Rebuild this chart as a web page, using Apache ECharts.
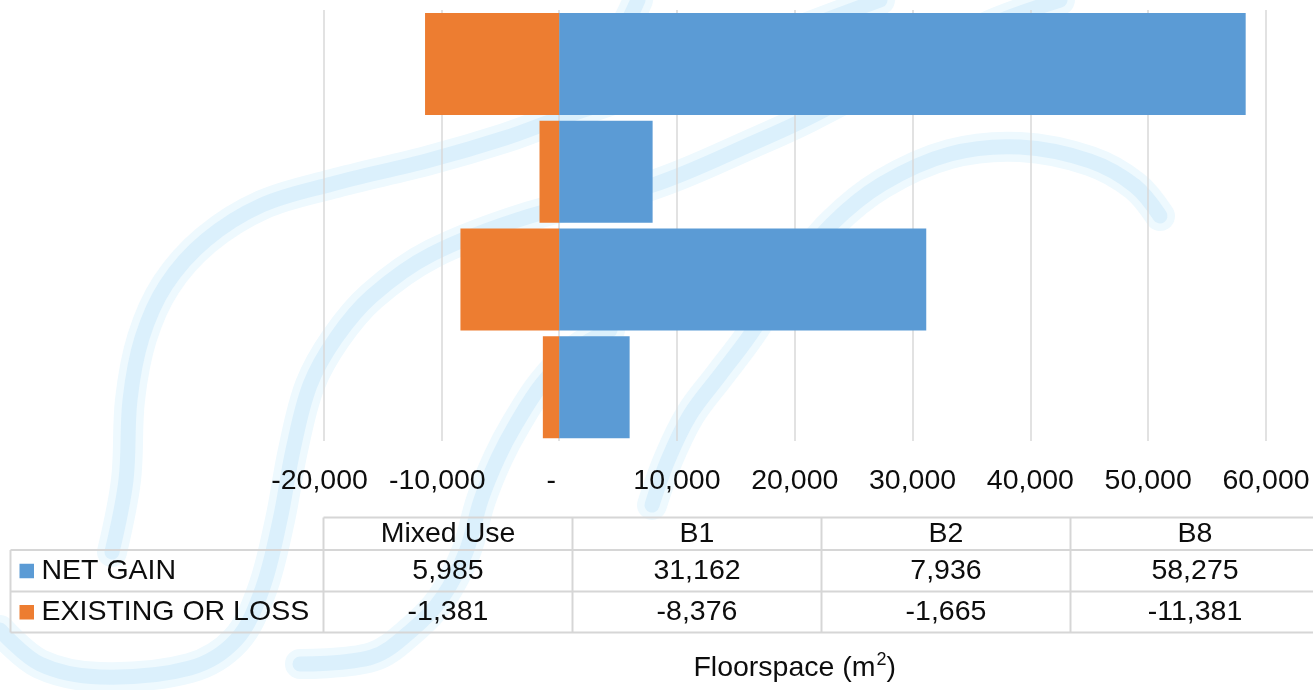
<!DOCTYPE html>
<html>
<head>
<meta charset="utf-8">
<script src="https://cdn.jsdelivr.net/npm/echarts@6/dist/echarts.min.js"></script>
<style>
  html, body { margin: 0; padding: 0; background: #ffffff; }
  #chart { width: 1313px; height: 690px; }
</style>
</head>
<body>
<div id="chart"></div>
<script>
// Floorspace by use class (m²)
const categories = ['Mixed Use', 'B1', 'B2', 'B8'];
const netGain = [5985, 31162, 7936, 58275];
const existingOrLoss = [-1381, -8376, -1665, -11381];
const seriesNames = ['NET GAIN', 'EXISTING OR LOSS'];
const seriesColors = ['#5b9bd5', '#ed7d31'];
const axisTicks = [-20000, -10000, 0, 10000, 20000, 30000, 40000, 50000, 60000];

const FONT = '"Liberation Sans", Arial, sans-serif';
const TEXT = '#0d0d0d';
const fmt = v => Math.abs(v).toLocaleString('en-US');
const signed = v => (v < 0 ? '-' : '') + fmt(v);

// accounting-style tick labels: zero shown as a dash
function tickLabel(v) {
  if (v === 0) return '-  ';
  return v < 0 ? signed(v) + ' ' : signed(v);
}

// ---- data table under the axis ----
const tbl = {
  left: 323.5, colW: 249, headLeft: 10.5, right: 1313,
  yHeadTop: 517.5, yRows: [550, 591.5, 632.5]
};
const line = '#d6d6d6';
const tableEls = [];
function hline(x1, x2, y) {
  tableEls.push({ type: 'line', z: 20, shape: { x1, y1: y, x2, y2: y }, style: { stroke: line, lineWidth: 2 } });
}
function vline(x, y1, y2) {
  tableEls.push({ type: 'line', z: 20, shape: { x1: x, y1, x2: x, y2 }, style: { stroke: line, lineWidth: 2 } });
}
function label(text, x, y, align) {
  tableEls.push({ type: 'text', z: 21, style: {
    text, x, y, align: align || 'center', verticalAlign: 'middle',
    fontSize: 28.5, fontFamily: FONT, fill: TEXT } });
}
hline(tbl.left, tbl.right, tbl.yHeadTop);
tbl.yRows.forEach(y => hline(tbl.headLeft, tbl.right, y));
vline(tbl.headLeft, tbl.yRows[0], tbl.yRows[2]);
for (let i = 0; i <= categories.length; i++) {
  vline(tbl.left + i * tbl.colW, tbl.yHeadTop, tbl.yRows[2]);
}
const rowValues = [netGain, existingOrLoss];
categories.forEach((c, i) => {
  const cx = tbl.left + tbl.colW * (i + 0.5);
  label(c, cx, (tbl.yHeadTop + tbl.yRows[0]) / 2 + 0.5);
  rowValues.forEach((vals, r) => {
    label(signed(vals[i]), cx, (tbl.yRows[r] + tbl.yRows[r + 1]) / 2 + 0.5);
  });
});
seriesNames.forEach((name, r) => {
  const cy = (tbl.yRows[r] + tbl.yRows[r + 1]) / 2;
  tableEls.push({ type: 'rect', z: 21, shape: { x: 19.5, y: cy - 7, width: 14.5, height: 14.5 },
    style: { fill: seriesColors[r] } });
  label(name, 41.5, cy + 0.5, 'left');
});

// ---- faint background swirl mark ----
const swirlPaths = [
  [[112, 552], [126, 480], [130, 400], [142, 338], [166, 285], [206, 240], [262, 205], [332, 184],
   [430, 160], [505, 138], [560, 118], [700, 70], [800, 30], [880, 0]],
  [[0, 630], [40, 664], [100, 677], [190, 668], [236, 640], [262, 590], [280, 520], [293, 450],
   [310, 385], [336, 338], [372, 296], [432, 254], [530, 216], [653, 185], [760, 140], [810, 117],
   [900, 70], [990, 25], [1060, 0]],
  [[652, 505], [668, 460], [690, 415], [720, 375], [748, 338], [790, 275], [832, 224], [882, 184],
   [950, 154], [1020, 147], [1090, 161], [1135, 186], [1160, 216]],
  [[300, 664], [372, 657], [412, 630], [442, 598], [466, 552], [481, 500], [498, 458], [516, 424],
   [542, 384], [575, 350], [610, 330]],
  [[600, 60], [624, 28], [638, 0]]
];
const swirlEls = [];
swirlPaths.forEach(pts => {
  swirlEls.push({ type: 'polyline', z: -2, silent: true, shape: { points: pts, smooth: 0.35 },
    style: { stroke: '#eef9fe', lineWidth: 30, fill: null, lineCap: 'round', lineJoin: 'round' } });
  swirlEls.push({ type: 'polyline', z: -1, silent: true, shape: { points: pts, smooth: 0.35 },
    style: { stroke: '#dbf0fc', lineWidth: 15, fill: null, lineCap: 'round', lineJoin: 'round' } });
});

const chart = echarts.init(document.getElementById('chart'), null, { renderer: 'canvas' });
chart.setOption({
  animation: false,
  backgroundColor: '#ffffff',
  textStyle: { fontFamily: FONT },
  grid: { left: 323.5, right: 47, top: 10, bottom: 243.5, containLabel: false },
  xAxis: {
    type: 'value',
    min: axisTicks[0],
    max: axisTicks[axisTicks.length - 1],
    interval: axisTicks[1] - axisTicks[0],
    axisLine: { show: false },
    axisTick: { show: false },
    splitLine: { show: true, lineStyle: { color: '#d9d9d9', width: 1.5 } },
    axisLabel: { margin: 26, fontSize: 28.5, color: TEXT, fontFamily: FONT, formatter: tickLabel },
    name: 'Floorspace (m{sup|2})',
    nameLocation: 'middle',
    nameGap: 210,
    nameTextStyle: {
      fontSize: 28.5, color: TEXT, fontFamily: FONT, lineHeight: 34,
      rich: { sup: { fontSize: 18, color: TEXT, fontFamily: FONT, verticalAlign: 'top', lineHeight: 34, padding: [0, 0, 10, 1] } }
    }
  },
  yAxis: {
    type: 'category',
    data: categories,
    axisLine: { show: false },
    axisTick: { show: false },
    axisLabel: { show: false },
    splitLine: { show: false }
  },
  series: [
    { name: seriesNames[0], type: 'bar', stack: 'floorspace', barWidth: 102, data: netGain,
      itemStyle: { color: seriesColors[0] } },
    { name: seriesNames[1], type: 'bar', stack: 'floorspace', barWidth: 102, data: existingOrLoss,
      itemStyle: { color: seriesColors[1] } }
  ],
  graphic: { elements: swirlEls.concat(tableEls) }
});
</script>
</body>
</html>
